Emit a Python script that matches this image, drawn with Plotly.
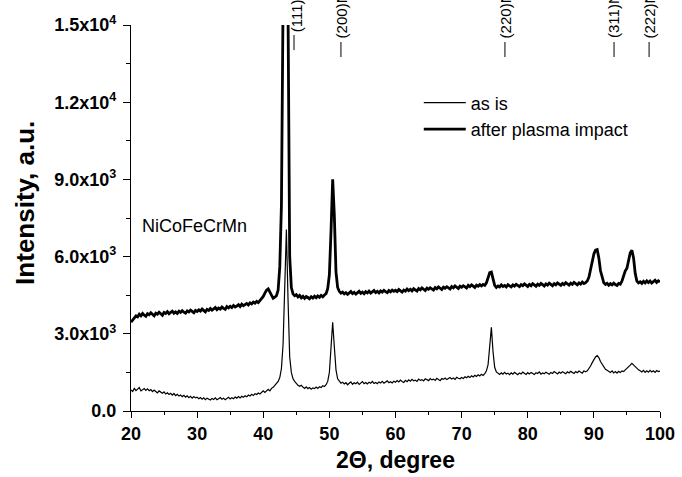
import plotly.graph_objects as go

# 2-theta step scan, 20..100 deg, 0.25 deg step
two_theta = [20 + 0.25 * i for i in range(321)]

# "as is" sample, counts
as_is_counts = [
    820, 760, 880, 790, 850, 910, 780, 840, 870, 800,
    860, 790, 830, 750, 810, 760, 700, 780, 720, 690,
    740, 660, 710, 640, 690, 620, 680, 600, 650, 580,
    620, 560, 610, 540, 590, 520, 570, 500, 560, 510,
    540, 480, 520, 460, 510, 440, 500, 470, 430, 490,
    450, 510, 440, 480, 520, 460, 500, 440, 490, 530,
    470, 520, 480, 540, 500, 560, 510, 570, 530, 590,
    550, 620, 580, 650, 600, 670, 640, 700, 660, 730,
    780, 720, 800, 840, 780, 880, 920, 1000, 1060, 1150,
    1300, 1650, 2600, 4800, 7050, 4300, 2100, 1500, 1250, 1150,
    1050, 1000, 960, 1000, 930, 880, 940, 870, 910, 850,
    900, 870, 930, 880, 940, 910, 980, 950, 1020, 1150,
    1500, 2300, 3450, 2500, 1600, 1250, 1150, 1080, 1120, 1050,
    1100, 1020, 1080, 1130, 1040, 1100, 1060, 1120, 1030, 1090,
    1140, 1060, 1110, 1050, 1120, 1080, 1150, 1070, 1110, 1060,
    1130, 1090, 1150, 1080, 1120, 1170, 1100, 1140, 1090, 1160,
    1120, 1180, 1130, 1200, 1150, 1110, 1190, 1140, 1210, 1160,
    1230, 1170, 1200, 1150, 1240, 1190, 1220, 1170, 1250, 1200,
    1180, 1260, 1210, 1240, 1190, 1270, 1220, 1180, 1260, 1230,
    1280, 1220, 1260, 1300, 1240, 1280, 1230, 1310, 1270, 1250,
    1300, 1260, 1330, 1290, 1350, 1300, 1370, 1320, 1390, 1340,
    1410, 1360, 1430, 1380, 1450, 1560, 1800, 2600, 3250, 2300,
    1700, 1520, 1470, 1420, 1480, 1430, 1500, 1440, 1470, 1410,
    1480, 1430, 1500, 1450, 1410, 1480, 1440, 1510, 1460, 1420,
    1490, 1440, 1500, 1450, 1420, 1490, 1460, 1520, 1430, 1480,
    1450, 1510, 1470, 1430, 1500, 1460, 1530, 1480, 1440, 1510,
    1470, 1530, 1490, 1450, 1520, 1480, 1540, 1500, 1460, 1530,
    1490, 1550, 1510, 1470, 1560, 1520, 1560, 1640, 1750, 1880,
    2000, 2100, 2150, 2080, 1920, 1800, 1700, 1620, 1580, 1540,
    1500, 1560, 1480, 1530, 1470, 1540, 1500, 1560, 1530, 1600,
    1650, 1700, 1780, 1850, 1780, 1720, 1650, 1600, 1560, 1520,
    1580, 1500, 1560, 1510, 1580, 1520, 1560, 1500, 1570, 1530,
    1550,
]

# sample after plasma impact, counts
plasma_counts = [
    3450, 3550, 3620, 3700, 3660, 3760, 3700, 3790, 3720, 3680,
    3780, 3740, 3820, 3750, 3700, 3800, 3760, 3840, 3770, 3720,
    3830, 3790, 3860, 3780, 3830, 3880, 3800, 3850, 3790, 3880,
    3830, 3900, 3840, 3800, 3890, 3850, 3920, 3860, 3820, 3910,
    3870, 3930, 3880, 3960, 3900, 3850, 3950, 3910, 3980, 3920,
    3970, 4020, 3940, 4000, 3960, 4040, 3990, 3950, 4060, 4010,
    4070, 4020, 4100, 4040, 4080, 4130, 4060, 4150, 4090, 4140,
    4180, 4120, 4200, 4160, 4230, 4190, 4260, 4210, 4300, 4350,
    4450, 4580, 4700, 4750, 4620, 4450, 4380, 4420, 4480, 4700,
    5600, 8000, 16000, 24000, 22000, 15500, 6000, 4800, 4550, 4480,
    4520, 4430, 4490, 4400, 4460, 4380, 4450, 4410, 4360, 4440,
    4390, 4460, 4400, 4470, 4420, 4490, 4440, 4510, 4560, 4750,
    5300, 7000, 9000, 7600, 5400, 4800, 4650, 4580, 4620, 4550,
    4600, 4530, 4590, 4640, 4560, 4610, 4540, 4600, 4650, 4570,
    4620, 4560, 4640, 4590, 4660, 4580, 4630, 4680, 4600, 4650,
    4590, 4670, 4620, 4690, 4640, 4600, 4680, 4630, 4700, 4650,
    4690, 4640, 4720, 4670, 4620, 4700, 4660, 4740, 4680, 4730,
    4670, 4750, 4700, 4660, 4760, 4710, 4780, 4720, 4680, 4770,
    4730, 4790, 4740, 4700, 4800, 4750, 4820, 4760, 4720, 4810,
    4770, 4830, 4780, 4740, 4840, 4790, 4860, 4800, 4760, 4850,
    4810, 4870, 4820, 4780, 4880, 4830, 4900, 4840, 4800, 4890,
    4850, 4910, 4860, 4920, 4880, 4980, 5150, 5380, 5400, 5150,
    4880, 4800, 4860, 4820, 4900, 4840, 4880, 4820, 4910, 4860,
    4820, 4900, 4850, 4920, 4860, 4830, 4910, 4870, 4940, 4880,
    4840, 4920, 4870, 4950, 4890, 4850, 4930, 4880, 4960, 4900,
    4860, 4940, 4890, 4970, 4910, 4870, 4950, 4900, 4980, 4920,
    4880, 4960, 4910, 4990, 4930, 4890, 4970, 4920, 5000, 4940,
    4900, 4980, 4930, 5010, 4950, 4990, 5050, 5200, 5450, 5800,
    6100, 6250, 6270, 5950, 5450, 5150, 4980, 4920, 4960, 4890,
    4950, 4900, 4970, 4910, 4880, 4960, 4930, 5050, 5250, 5450,
    5550, 5800, 6150, 6250, 5950, 5350, 5050, 4980, 5020, 4960,
    5040, 4980, 5060, 4990, 5050, 4970, 5030, 5080, 5000, 5060,
    5020,
]

# reference reflections of the fcc phase
hkl_labels = ["(111)", "(200)", "(220)", "(311)", "(222)"]
hkl_positions = [44.95, 51.75, 76.55, 93.05, 98.35]

x_ticks = [20, 30, 40, 50, 60, 70, 80, 90, 100]
y_ticks = [0, 3000, 6000, 9000, 12000, 15000]
y_tick_text = ["0.0", "3.0x10<sup>3</sup>", "6.0x10<sup>3</sup>",
               "9.0x10<sup>3</sup>", "1.2x10<sup>4</sup>", "1.5x10<sup>4</sup>"]

FONT = "Liberation Sans, Arial, sans-serif"

fig = go.Figure()
fig.add_trace(go.Scatter(x=two_theta, y=as_is_counts, mode="lines", name="as is",
                         line=dict(color="black", width=1.2)))
fig.add_trace(go.Scatter(x=two_theta, y=plasma_counts, mode="lines",
                         name="after plasma impact",
                         line=dict(color="black", width=2.8)))

# hkl markers along the top edge: a short tick with the label running off the figure
for label, pos in zip(hkl_labels, hkl_positions):
    if label == "(111)":
        tick_x, tick_lo, tick_hi, text_bottom = pos - 0.3, 0.935, 0.974, 0.976
    else:
        tick_x, tick_lo, tick_hi, text_bottom = pos, 0.917, 0.956, 0.960
    fig.add_shape(type="line", xref="x", yref="paper",
                  x0=tick_x, x1=tick_x, y0=tick_lo, y1=tick_hi,
                  line=dict(color="black", width=1))
    fig.add_annotation(x=pos, xref="x", y=text_bottom, yref="paper",
                       text=label + "NiCo", textangle=-90,
                       xanchor="center", yanchor="bottom", showarrow=False,
                       font=dict(family=FONT, size=15, color="black"))

fig.add_annotation(x=0.017, xref="paper", y=0.479, yref="paper",
                   text="NiCoFeCrMn", xanchor="left", yanchor="middle",
                   showarrow=False, font=dict(family=FONT, size=18, color="black"))

# y-axis title, set slightly above the plot's mid-height
fig.add_annotation(x=-0.2005, xref="paper", y=0.539, yref="paper",
                   text="<b>Intensity, a.u.</b>", textangle=-90,
                   xanchor="center", yanchor="middle", showarrow=False,
                   font=dict(family=FONT, size=26, color="black"))

axis_common = dict(showline=True, linecolor="black", linewidth=1.3,
                   ticks="outside", tickcolor="black", tickwidth=1.3,
                   showgrid=False, zeroline=False, automargin=False,
                   mirror=False)

fig.update_xaxes(range=[20, 100], tickmode="array", tickvals=x_ticks, ticklen=6,
                 tickfont=dict(family=FONT, size=18, color="black", weight="bold"),
                 title=dict(text="2\u0398, degree", standoff=9,
                            font=dict(family=FONT, size=23, color="black", weight="bold")),
                 minor=dict(tickmode="linear", tick0=20, dtick=5, ticks="outside",
                            ticklen=3, tickwidth=1.3, tickcolor="black"),
                 **axis_common)
fig.update_yaxes(range=[0, 15000], tickmode="array", tickvals=y_ticks,
                 ticktext=y_tick_text, ticklen=7, ticklabelstandoff=3,
                 tickfont=dict(family=FONT, size=18, color="black", weight="bold"),
                 minor=dict(tickmode="linear", tick0=0, dtick=1500, ticks="outside",
                            ticklen=4, tickwidth=1.3, tickcolor="black"),
                 **axis_common)

fig.update_layout(
    template="none",
    width=682, height=477,
    margin=dict(l=131, r=22, t=25, b=66),
    plot_bgcolor="white", paper_bgcolor="white",
    font=dict(family=FONT, color="black"),
    showlegend=True,
    legend=dict(x=0.544, y=0.846, xanchor="left", yanchor="top",
                bgcolor="rgba(0,0,0,0)", borderwidth=0, itemwidth=42,
                font=dict(family=FONT, size=18, color="black"),
                tracegroupgap=0),
)

fig.write_html("out.html")
